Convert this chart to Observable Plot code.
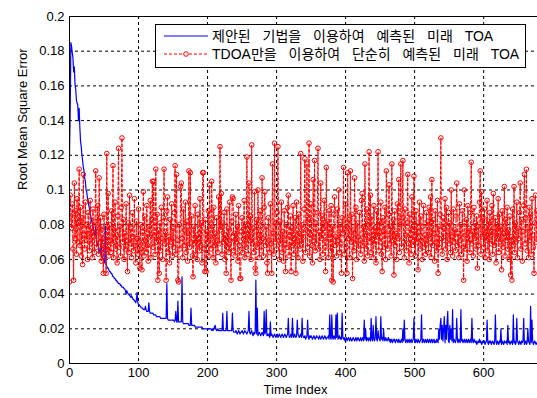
<!DOCTYPE html>
<html><head><meta charset="utf-8">
<script src="https://cdn.jsdelivr.net/npm/d3@7"></script>
<script src="https://cdn.jsdelivr.net/npm/@observablehq/plot@0.6"></script>
<style>
body{margin:0;background:#fff;}
#wrap{position:relative;width:537px;height:398px;overflow:hidden;background:#fff;}
#legend{position:absolute;left:155px;top:24px;width:369px;height:42px;border:1px solid #000;background:#fff;
 font-family:"Liberation Sans","Noto Sans CJK KR",sans-serif;font-size:14px;color:#000;}
.row{position:absolute;left:0;height:18px;width:369px;}
.row svg{position:absolute;left:7px;top:0;}
.row span{position:absolute;left:56px;top:0;line-height:18px;white-space:nowrap;word-spacing:8px;}
</style></head>
<body><div id="wrap"></div>
<script>
const seriesNames = ["제안된 기법을 이용하여 예측된 미래 TOA", "TDOA만을 이용하여 단순히 예측된 미래 TOA"];
const xLabel = "Time Index";
const yLabel = "Root Mean Square Error";
const xTicks = [0, 100, 200, 300, 400, 500, 600];
const xTickLabels = ["0", "100", "200", "300", "400", "500", "600"];
const yTicks = [0, 0.02, 0.04, 0.06, 0.08, 0.1, 0.12, 0.14, 0.16, 0.18, 0.2];
const yTickLabels = ["0", "0.02", "0.04", "0.06", "0.08", "0.1", "0.12", "0.14", "0.16", "0.18", "0.2"];

// proposed method (blue), one value per time index 0..677
const blue = [
.120,.145,.185,.183,.179,.176,.168,.171,.161,.158,.152,.150,.149,.140,.147,.136,.128,.125,.120,.117,
.113,.111,.107,.105,.100,.099,.095,.094,.091,.089,.086,.085,.082,.081,.078,.077,.075,.074,.079,.071,
.069,.068,.067,.066,.064,.063,.072,.062,.061,.060,.058,.058,.079,.057,.056,.055,.055,.054,.053,.053,
.052,.052,.051,.050,.050,.049,.049,.048,.048,.047,.047,.046,.046,.046,.045,.045,.044,.044,.044,.043,
.043,.042,.040,.042,.041,.040,.040,.039,.039,.038,.039,.038,.037,.037,.036,.036,.035,.037,.041,.035,
.034,.034,.033,.033,.032,.032,.032,.031,.031,.031,.033,.031,.030,.030,.030,.035,.030,.029,.029,.029,
.029,.029,.028,.028,.028,.028,.027,.027,.027,.027,.027,.027,.026,.026,.026,.026,.026,.026,.026,.026,
.026,.046,.026,.025,.025,.025,.025,.025,.025,.025,.025,.025,.024,.025,.030,.024,.024,.036,.024,.024,
.024,.024,.024,.050,.024,.023,.023,.023,.023,.023,.023,.023,.023,.022,.022,.022,.032,.022,.022,.022,
.022,.022,.021,.021,.021,.021,.021,.021,.021,.021,.021,.021,.021,.020,.020,.020,.020,.020,.020,.020,
.020,.020,.020,.020,.020,.020,.019,.020,.019,.020,.021,.022,.020,.019,.019,.020,.019,.019,.019,.019,
.019,.019,.029,.019,.019,.019,.019,.019,.030,.019,.019,.019,.019,.019,.019,.019,.029,.019,.018,.018,
.018,.019,.018,.017,.018,.019,.018,.017,.018,.018,.019,.018,.017,.018,.019,.018,.018,.017,.018,.019,
.030,.018,.017,.018,.019,.017,.016,.018,.017,.018,.048,.017,.032,.016,.017,.018,.017,.016,.017,.018,
.017,.016,.030,.017,.018,.031,.016,.017,.016,.017,.015,.024,.016,.017,.016,.015,.016,.017,.016,.015,
.016,.017,.015,.016,.017,.016,.015,.016,.017,.016,.015,.016,.017,.016,.015,.016,.017,.026,.016,.015,
.016,.017,.015,.026,.016,.015,.017,.016,.015,.016,.025,.017,.016,.015,.016,.017,.015,.026,.016,.015,
.015,.016,.014,.015,.016,.025,.015,.014,.016,.015,.016,.015,.014,.015,.016,.015,.014,.015,.016,.015,
.015,.014,.016,.015,.014,.015,.016,.015,.014,.015,.016,.015,.014,.015,.015,.016,.014,.028,.015,.014,
.028,.015,.014,.016,.015,.014,.028,.015,.029,.014,.015,.016,.014,.015,.014,.029,.015,.014,.015,.013,
.014,.015,.013,.014,.015,.014,.013,.015,.014,.013,.014,.015,.014,.013,.014,.015,.013,.014,.015,.014,
.013,.014,.015,.013,.014,.015,.013,.025,.014,.020,.013,.015,.014,.013,.015,.014,.013,.026,.014,.013,
.022,.014,.013,.015,.027,.014,.013,.019,.015,.014,.013,.027,.014,.015,.013,.020,.014,.013,.015,.014,
.013,.014,.015,.013,.014,.012,.014,.013,.012,.014,.013,.014,.012,.013,.014,.013,.012,.014,.013,.012,
.013,.014,.012,.020,.013,.025,.014,.012,.013,.014,.012,.013,.014,.012,.013,.014,.012,.013,.014,.026,
.013,.012,.014,.013,.012,.014,.013,.012,.013,.014,.028,.012,.013,.014,.012,.013,.014,.012,.013,.014,
.012,.013,.014,.012,.013,.014,.012,.013,.014,.012,.013,.012,.014,.013,.012,.020,.014,.022,.026,.014,
.022,.013,.020,.027,.012,.022,.014,.024,.030,.013,.012,.022,.014,.020,.013,.031,.012,.014,.013,.012,
.014,.026,.013,.012,.014,.013,.012,.031,.013,.014,.012,.013,.014,.012,.013,.014,.012,.013,.014,.012,
.013,.014,.012,.026,.013,.012,.014,.013,.012,.013,.011,.012,.013,.012,.014,.012,.013,.011,.012,.013,
.012,.013,.011,.012,.013,.025,.012,.011,.013,.012,.013,.011,.012,.013,.012,.011,.013,.028,.012,.011,
.013,.012,.011,.013,.012,.020,.011,.013,.012,.011,.013,.012,.012,.013,.011,.022,.012,.013,.011,.012,
.013,.012,.011,.028,.012,.013,.011,.012,.026,.013,.012,.011,.013,.012,.011,.013,.012,.013,.026,.011,
.012,.013,.011,.012,.020,.013,.012,.011,.033,.012,.025,.013,.011,.012,.013,.012,.011,.012
];

// TDOA-only prediction (red), one value per time index 0..677
const red = [
.047,.097,.085,.078,.092,.066,.048,.104,.072,.088,.063,.095,.070,.081,.112,.068,.090,.062,.084,.057,
.109,.074,.066,.093,.071,.080,.060,.087,.075,.065,.094,.069,.078,.061,.089,.073,.064,.082,.111,.067,
.076,.091,.063,.107,.070,.084,.059,.079,.068,.052,.086,.072,.065,.052,.121,.066,.098,.062,.080,.071,
.064,.088,.069,.114,.061,.077,.093,.066,.074,.058,.085,.124,.067,.079,.062,.090,.130,.070,.083,.060,
.075,.066,.092,.071,.053,.081,.064,.097,.069,.078,.061,.087,.073,.065,.095,.068,.058,.082,.072,.063,
.089,.070,.055,.080,.066,.054,.076,.099,.062,.085,.071,.064,.091,.068,.059,.079,.073,.094,.061,.083,
.105,.067,.105,.074,.063,.112,.070,.086,.048,.077,.052,.081,.065,.090,.072,.060,.084,.112,.069,.076,
.048,.088,.096,.064,.073,.058,.083,.070,.092,.062,.078,.067,.087,.114,.063,.109,.071,.048,.047,.080,
.066,.102,.104,.072,.061,.089,.068,.077,.093,.064,.082,.059,.075,.111,.067,.110,.070,.085,.062,.050,
.079,.069,.091,.063,.074,.060,.086,.072,.065,.095,.068,.081,.058,.110,.110,.066,.053,.083,.053,.076,
.070,.088,.062,.103,.073,.066,.105,.079,.061,.090,.068,.075,.058,.084,.071,.064,.096,.069,.125,.077,
.098,.063,.081,.070,.087,.060,.074,.052,.089,.067,.078,.064,.093,.071,.048,.082,.096,.095,.065,.075,
.062,.086,.070,.079,.059,.091,.068,.049,.049,.076,.084,.064,.072,.094,.061,.080,.067,.119,.073,.063,
.104,.071,.085,.060,.126,.069,.078,.064,.099,.055,.052,.083,.067,.100,.074,.061,.088,.070,.065,.107,
.072,.062,.090,.099,.068,.079,.058,.052,.084,.071,.064,.092,.069,.052,.115,.075,.063,.127,.070,.081,
.066,.087,.125,.073,.060,.082,.069,.093,.064,.076,.059,.088,.071,.053,.080,.067,.090,.097,.062,.074,
.085,.053,.078,.068,.091,.063,.072,.084,.052,.093,.070,.061,.086,.075,.066,.121,.069,.080,.059,.073,
.089,.118,.064,.077,.115,.067,.083,.127,.062,.074,.092,.068,.058,.106,.071,.117,.065,.081,.069,.087,
.124,.066,.076,.060,.104,.072,.085,.063,.078,.094,.067,.053,.113,.070,.082,.061,.088,.074,.065,.091,
.048,.079,.047,.086,.096,.068,.073,.062,.089,.071,.100,.064,.080,.069,.052,.084,.075,.113,.063,.078,
.092,.067,.052,.110,.072,.083,.061,.111,.070,.086,.049,.077,.065,.107,.069,.090,.060,.081,.073,.066,
.087,.071,.063,.094,.098,.068,.079,.059,.115,.074,.066,.089,.062,.080,.122,.070,.097,.064,.085,.072,
.061,.091,.069,.078,.058,.088,.073,.122,.065,.082,.070,.093,.063,.053,.084,.076,.067,.090,.060,.111,
.074,.066,.086,.103,.069,.079,.062,.115,.071,.083,.051,.088,.068,.075,.060,.092,.072,.106,.064,.080,
.115,.067,.084,.117,.070,.061,.089,.074,.065,.081,.109,.069,.058,.086,.072,.063,.096,.077,.068,.108,
.073,.062,.088,.070,.081,.054,.076,.093,.066,.085,.071,.060,.079,.091,.067,.074,.063,.087,.069,.082,
.064,.090,.072,.096,.061,.106,.068,.083,.075,.059,.088,.070,.065,.094,.052,.079,.067,.086,.130,.072,
.063,.084,.071,.078,.095,.066,.090,.060,.074,.087,.069,.081,.064,.100,.073,.062,.089,.070,.077,.065,
.085,.104,.068,.075,.061,.092,.071,.080,.063,.088,.067,.048,.100,.074,.066,.083,.059,.091,.070,.078,
.064,.087,.116,.069,.076,.062,.090,.072,.081,.066,.085,.055,.079,.068,.093,.111,.063,.099,.073,.084,
.067,.089,.061,.078,.071,.094,.065,.082,.060,.087,.074,.069,.091,.063,.098,.076,.068,.084,.058,.080,
.072,.095,.064,.086,.070,.079,.054,.088,.067,.075,.102,.062,.083,.071,.090,.066,.077,.060,.085,.051,
.073,.048,.089,.068,.102,.064,.081,.070,.093,.061,.078,.072,.087,.104,.066,.083,.059,.076,.091,.109,
.069,.084,.112,.065,.078,.061,.090,.071,.086,.063,.095,.074,.067,.052,.081,.097,.070,.088
];

const blueData = blue.map((v, i) => ({t: i, v}));
const redData = red.map((v, i) => ({t: i, v}));

const gridStyle = {stroke: "#000", strokeOpacity: 1, strokeWidth: 1, strokeDasharray: "3,3"};

const chart = Plot.plot({
  width: 537, height: 398,
  marginLeft: 69, marginRight: 0, marginTop: 16, marginBottom: 35,
  style: {fontFamily: '"Liberation Sans", Arial, sans-serif', fontSize: "13px", color: "#000", background: "#fff", overflow: "hidden"},
  x: {domain: [0, 678]},
  y: {domain: [0, 0.2]},
  marks: [
    Plot.gridX(xTicks, gridStyle),
    Plot.gridY(yTicks, gridStyle),
    Plot.line(blueData, {x: "t", y: "v", stroke: "#0000ff", strokeWidth: 1.2, clip: true}),
    Plot.line(redData, {x: "t", y: "v", stroke: "#ff0000", strokeWidth: 1, strokeDasharray: "3,2", clip: true}),
    Plot.dot(redData, {x: "t", y: "v", r: 2.3, stroke: "#ff0000", fill: "none", strokeWidth: 1, clip: true}),
    Plot.ruleX([0], {stroke: "#000"}),
    Plot.ruleY([0, 0.2], {stroke: "#000"}),
    Plot.axisX(xTicks, {tickSize: 0, tickPadding: 4, label: null, tickFormat: (d, i) => xTickLabels[i], fill: "#000"}),
    Plot.axisY(yTicks, {tickSize: 0, tickPadding: 5, label: null, tickFormat: (d, i) => yTickLabels[i], fill: "#000"}),
    Plot.text([xLabel], {frameAnchor: "bottom", dy: 30, dx: -8, fill: "#000"}),
    Plot.text([yLabel], {frameAnchor: "left", rotate: -90, dx: -47, fill: "#000"})
  ]
});

const wrap = document.getElementById("wrap");
wrap.appendChild(chart);

// legend overlay
const legend = document.createElement("div");
legend.id = "legend";
const rowsSpec = [
  {name: seriesNames[0], color: "#0000ff", dash: null, marker: false, top: 2},
  {name: seriesNames[1], color: "#ff0000", dash: "3,2", marker: true, top: 20}
];
for (const s of rowsSpec) {
  const row = document.createElement("div");
  row.className = "row";
  row.style.top = s.top + "px";
  const svgNS = "http://www.w3.org/2000/svg";
  const svg = document.createElementNS(svgNS, "svg");
  svg.setAttribute("width", "46"); svg.setAttribute("height", "18");
  const ln = document.createElementNS(svgNS, "line");
  ln.setAttribute("x1", "1"); ln.setAttribute("x2", "45");
  ln.setAttribute("y1", "9"); ln.setAttribute("y2", "9");
  ln.setAttribute("stroke", s.color); ln.setAttribute("stroke-width", "1");
  if (s.dash) ln.setAttribute("stroke-dasharray", s.dash);
  svg.appendChild(ln);
  if (s.marker) {
    const c = document.createElementNS(svgNS, "circle");
    c.setAttribute("cx", "23"); c.setAttribute("cy", "9"); c.setAttribute("r", "2.3");
    c.setAttribute("fill", "#fff"); c.setAttribute("stroke", s.color);
    svg.appendChild(c);
  }
  row.appendChild(svg);
  const sp = document.createElement("span");
  sp.textContent = s.name;
  row.appendChild(sp);
  legend.appendChild(row);
}
wrap.appendChild(legend);
</script>
</body></html>
